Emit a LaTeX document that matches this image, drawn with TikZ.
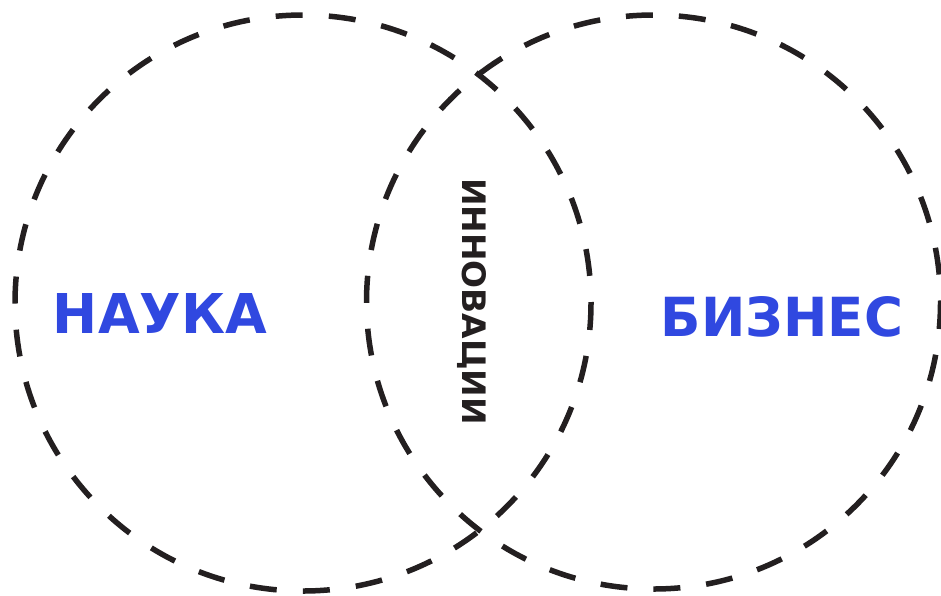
\documentclass[tikz,border=0pt]{standalone}
\usepackage{fontspec}
\setmainfont{DejaVu Sans}
\usepackage{graphicx}
\definecolor{ink}{RGB}{35,31,32}
\definecolor{accent}{RGB}{48,72,224}
\tikzset{
  ring/.style={draw=ink, line width=5.5pt},
  bigword/.style={inner sep=0pt, text=accent, font=\bfseries},
  midword/.style={inner sep=0pt, text=ink, font=\bfseries, rotate=-90}
}
\begin{document}
\begin{tikzpicture}[x=1pt,y=-1pt]
\useasboundingbox (0,0) rectangle (941,595);
\coordinate (lc) at (303,303);
\coordinate (rc) at (653.5,302);
\draw[ring, dash pattern=on 27pt off 26.2pt] (lc) circle[radius=288];
\draw[ring, dash pattern=on 27pt off 26pt] (rc) circle[radius=287];
\node[bigword] (nauka) at (160,313) {\resizebox{214pt}{40pt}{НАУКА}};
\node[bigword] (biznes) at (782,317) {\resizebox{242pt}{40pt}{БИЗНЕС}};
\node[midword] (innov) at (472,301.5) {\resizebox{247pt}{24pt}{ИННОВАЦИИ}};
\end{tikzpicture}
\end{document}
